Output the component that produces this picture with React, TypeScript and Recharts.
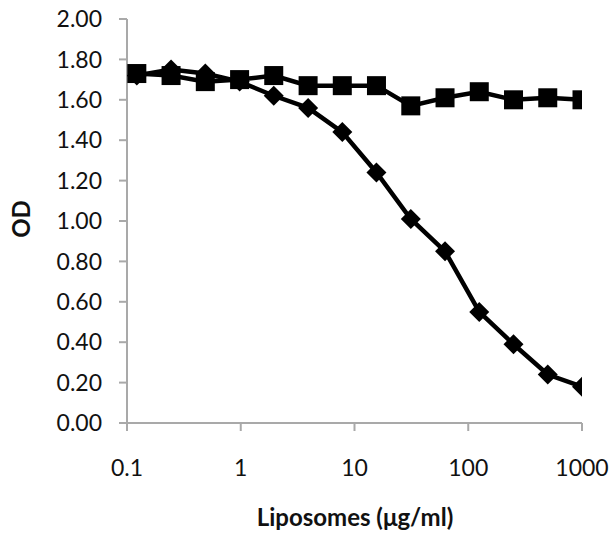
import { CartesianGrid, Label, Line, LineChart, XAxis, YAxis } from "recharts";

// liposome concentration (µg/ml), two-fold dilution series
const concentrations = [0.122, 0.244, 0.488, 0.977, 1.95, 3.91, 7.81, 15.6, 31.25, 62.5, 125, 250, 500, 1000];
const diamondOD = [1.72, 1.75, 1.73, 1.69, 1.62, 1.56, 1.44, 1.24, 1.01, 0.85, 0.55, 0.39, 0.24, 0.18];
const squareOD = [1.73, 1.72, 1.69, 1.70, 1.72, 1.67, 1.67, 1.67, 1.57, 1.61, 1.64, 1.60, 1.61, 1.60];

const xTicks = [0.1, 1, 10, 100, 1000];
const yTicks = [0, 0.2, 0.4, 0.6, 0.8, 1.0, 1.2, 1.4, 1.6, 1.8, 2.0];

const FONT = "Lato, 'Open Sans', sans-serif";
const AXIS_GRAY = "#a9a9a9";
const TEXT = "#111";

const rows = concentrations.map((c, i) => ({
  conc: c,
  diamond: diamondOD[i],
  square: squareOD[i],
}));

function DiamondDot(props: any) {
  const { cx, cy, index } = props;
  if (cx == null || cy == null) return null;
  const r = 10;
  return (
    <path
      key={`d-${index}`}
      d={`M${cx},${cy - r}L${cx + r},${cy}L${cx},${cy + r}L${cx - r},${cy}Z`}
      fill="#000"
    />
  );
}

function SquareDot(props: any) {
  const { cx, cy, index } = props;
  if (cx == null || cy == null) return null;
  const s = 19;
  return <rect key={`s-${index}`} x={cx - s / 2} y={cy - s / 2} width={s} height={s} fill="#000" />;
}

function YTitle() {
  const x = 20.5;
  const y = 219;
  return (
    <text
      x={x}
      y={y}
      transform={`rotate(-90 ${x} ${y})`}
      textAnchor="middle"
      dominantBaseline="central"
      fontFamily={FONT}
      fontWeight={700}
      fontSize={24}
      fill={TEXT}
    >
      OD
    </text>
  );
}

function XTitle() {
  return (
    <text x={355} y={526} textAnchor="middle" fontFamily={FONT} fontWeight={700} fontSize={24} fill={TEXT}>
      Liposomes (μg/ml)
    </text>
  );
}

export default function App() {
  return (
    <div style={{ position: "absolute", left: 0, top: 0, width: 612, height: 534, background: "#fff" }}>
      <LineChart width={612} height={534} data={rows} margin={{ top: 19, right: 30, bottom: 0, left: 0 }}>
        <CartesianGrid stroke="none" />
        <XAxis
          dataKey="conc"
          type="number"
          scale="log"
          domain={[0.1, 1000]}
          ticks={xTicks}
          allowDataOverflow
          height={111}
          stroke={AXIS_GRAY}
          strokeWidth={2}
          tickSize={8}
          tickMargin={29}
          tick={{ fill: TEXT, fontSize: 23, fontFamily: FONT }}
          tickFormatter={(v: number) => String(v)}
        >
          <Label content={<XTitle />} />
        </XAxis>
        <YAxis
          type="number"
          domain={[0, 2]}
          ticks={yTicks}
          width={127}
          stroke={AXIS_GRAY}
          strokeWidth={2}
          tickSize={8}
          tickMargin={17}
          tick={{ fill: TEXT, fontSize: 23, fontFamily: FONT }}
          tickFormatter={(v: number) => v.toFixed(2)}
        >
          <Label content={<YTitle />} />
        </YAxis>
        <Line
          dataKey="diamond"
          type="linear"
          stroke="#000"
          strokeWidth={4.5}
          dot={DiamondDot}
          activeDot={false}
          isAnimationActive={false}
        />
        <Line
          dataKey="square"
          type="linear"
          stroke="#000"
          strokeWidth={4.5}
          dot={SquareDot}
          activeDot={false}
          isAnimationActive={false}
        />
      </LineChart>
    </div>
  );
}
